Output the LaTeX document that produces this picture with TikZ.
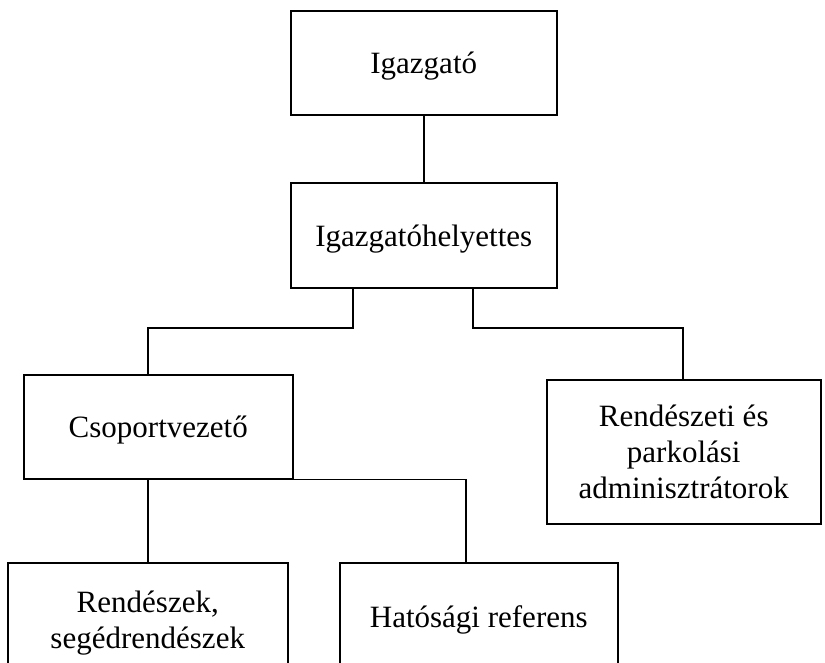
\documentclass[tikz,border=0pt]{standalone}
\usepackage{fontspec}
\setmainfont{Liberation Serif}
\begin{document}
\begin{tikzpicture}[x=1pt,y=-1pt,
  box/.style={draw=black, line width=1.5pt, rectangle, inner sep=0pt, anchor=north west, align=center, font=\fontsize{31}{36}\selectfont},
  oneline/.style={text depth=0pt},
  link/.style={draw=black, line width=1.5pt}]
\path[use as bounding box, fill=white] (0,0) rectangle (825,662);
\clip (0,0) rectangle (825,662);
% boxes
\node[box, oneline, minimum width=266pt, minimum height=104pt] (igaz) at (290,10) {Igazgató};
\node[box, oneline, minimum width=266pt, minimum height=105pt] (helyettes) at (290,182) {Igazgatóhelyettes};
\node[box, oneline, minimum width=269pt, minimum height=104pt] (csop) at (23,374) {Csoportvezető};
\node[box, minimum width=274pt, minimum height=144pt] (rend) at (546,379) {Rendészeti és\\parkolási\\adminisztrátorok};
\node[box, minimum width=280pt, minimum height=120pt] (rendk) at (7,562) {Rendészek,\\segédrendészek};
\node[box, oneline, minimum width=278pt, minimum height=108pt] (hat) at (339,562) {Hatósági referens};
% junction coordinates
\coordinate (jL) at (353,328);
\coordinate (jLL) at (148,328);
\coordinate (jR) at (473,328);
\coordinate (jRR) at (683,328);
\coordinate (k1) at (148,520);
\coordinate (k2) at (466,478);
% connectors
\draw[link] (igaz.south) -- (helyettes.north);
\draw[link] (helyettes.south -| jL) |- (jLL) -- (csop.north -| jLL);
\draw[link] (helyettes.south -| jR) |- (jRR) -- (rend.north -| jRR);
\draw[link] (csop.south -| k1) -- (rendk.north -| k1);
\draw[link] (csop.south east) -- (csop.south -| k2) -- (hat.north -| k2);
\end{tikzpicture}
\end{document}
